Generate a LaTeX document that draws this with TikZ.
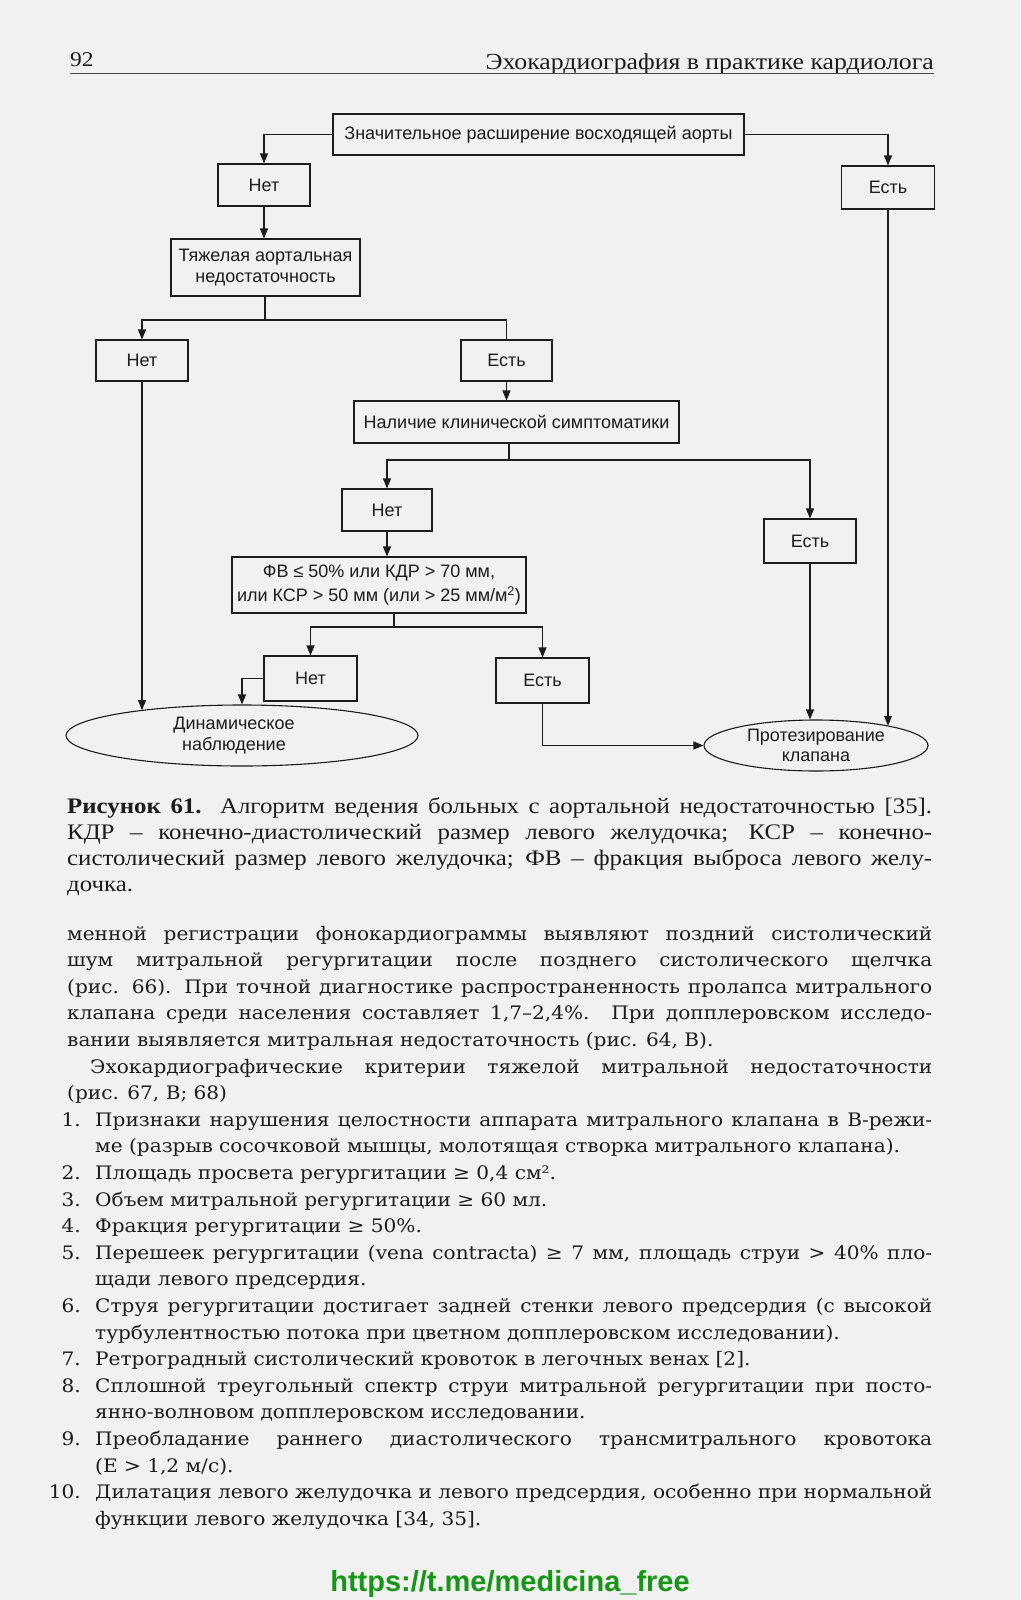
\documentclass[tikz,border=0pt]{standalone}
\usepackage{fontspec}
\setmainfont[FakeStretch=1.12]{Liberation Serif}
\newfontfamily\flowfont{Liberation Sans}
\newfontfamily\bodyfont[FakeStretch=1.08]{DejaVu Serif}
\newfontfamily\urlfont{Liberation Sans}
\usetikzlibrary{arrows.meta,shapes.geometric,calc}
\definecolor{pagebg}{RGB}{241,241,241}
\definecolor{ink}{RGB}{28,28,28}
\definecolor{urlgreen}{RGB}{22,150,22}
\tikzset{
  fbox/.style={draw=ink, line width=1.1pt, fill=pagebg, inner sep=0pt, align=center,
    text=ink, font=\flowfont\fontsize{18}{20.5}\selectfont},
  fell/.style={ellipse, draw=ink, line width=1.1pt, fill=pagebg, inner sep=0pt, align=center,
    text=ink, font=\flowfont\fontsize{18}{20.5}\selectfont},
  conn/.style={draw=ink, line width=1.1pt},
  arr/.style={conn, -{Triangle[length=10pt,width=8pt]}},
  bodytxt/.style={inner sep=0pt, anchor=base west, text=ink, font=\bodyfont\fontsize{18.6}{22}\selectfont},
  captxt/.style={inner sep=0pt, anchor=base west, text=ink, font=\fontsize{22.2}{26}\selectfont},
  numtxt/.style={inner sep=0pt, anchor=base east, text=ink, font=\bodyfont\fontsize{18.6}{22}\selectfont},
}
\newcommand\bodyjust[5]{\node[bodytxt] (#1) at (#2,#3) {\makebox[#4pt][s]{#5}};}
\newcommand\bodyplain[4]{\node[bodytxt] (#1) at (#2,#3) {#4};}
\newcommand\capjust[5]{\node[captxt] (#1) at (#2,#3) {\makebox[#4pt][s]{#5}};}
\begin{document}
\begin{tikzpicture}[x=1pt,y=-1pt]
\useasboundingbox (0,0) rectangle (1020,1600);
\fill[pagebg] (0,0) rectangle (1020,1600);

% header
\node[inner sep=0pt, anchor=base west, text=ink, font=\fontsize{21}{24}\selectfont] (pagenum) at (70,67) {92};
\node[inner sep=0pt, anchor=base east, text=ink, font=\fontsize{23}{26}\selectfont] (runhead) at (934,70) {Эхокардиография в практике кардиолога};
\draw[line width=1.2pt, color=ink!80] (pagenum.base west |- 0,73.5) -- (runhead.base east |- 0,73.5);

% flowchart nodes
\node[fbox, minimum width=411pt, minimum height=41pt] (top) at (538.5,134.5) {Значительное расширение восходящей аорты};
\node[fbox, minimum width=92pt, minimum height=42pt] (no1) at (264,185) {Нет};
\node[fbox, minimum width=93pt, minimum height=43pt] (yes1) at (888,187.5) {Есть};
\node[fbox, minimum width=189pt, minimum height=57pt] (heavy) at (265.5,267.5) {Тяжелая аортальная\\недостаточность};
\node[fbox, minimum width=92pt, minimum height=41pt] (no2) at (142,360.5) {Нет};
\node[fbox, minimum width=91pt, minimum height=41pt] (yes2) at (506.5,360.5) {Есть};
\node[fbox, minimum width=325pt, minimum height=42pt] (clin) at (516.5,422) {Наличие клинической симптоматики};
\node[fbox, minimum width=90pt, minimum height=42pt] (no3) at (387,510) {Нет};
\node[fbox, minimum width=92pt, minimum height=44pt] (yes3) at (810,541) {Есть};
\node[fbox, minimum width=294pt, minimum height=56pt, font=\flowfont\fontsize{18}{24}\selectfont] (fv) at (379,585) {ФВ ≤ 50\% или КДР > 70 мм,\\или КСР > 50 мм (или > 25 мм/м\textsuperscript{2})};
\node[fbox, minimum width=93pt, minimum height=45pt] (no4) at (310.5,678.5) {Нет};
\node[fbox, minimum width=93pt, minimum height=45pt] (yes4) at (542.5,680.5) {Есть};
\node[fell, minimum width=352pt, minimum height=61pt] (obs) at (242,735.5) {\hspace*{-16pt}Динамическое\\\hspace*{-16pt}наблюдение};
\node[fell, minimum width=224pt, minimum height=51pt] (prost) at (816,745.5) {Протезирование\\клапана};

% junctions
\coordinate (j1) at (265,320);
\coordinate (j2) at (509,460);
\coordinate (j3) at (394,627);

% connectors
\draw[arr] (top.west) -| (no1.north);
\draw[arr] (top.east) -| (yes1.north);
\draw[arr] (no1.south) -- (no1.south |- heavy.north);
\draw[conn] (j1 |- heavy.south) -- (j1);
\draw[arr] (j1) -| (no2.north);
\draw[conn] (j1) -| (yes2.north);
\draw[arr] (yes2.south) -- (yes2.south |- clin.north);
\draw[conn] (j2 |- clin.south) -- (j2);
\draw[arr] (j2) -| (no3.north);
\draw[arr] (j2) -| (yes3.north);
\draw[arr] (no3.south) -- (no3.south |- fv.north);
\draw[conn] (j3 |- fv.south) -- (j3);
\draw[arr] (j3) -| (no4.north);
\draw[arr] (j3) -| (yes4.north);
\draw[arr] (no4.west) -| (obs.north);
\draw[arr] (no2.south) -- (no2.south |- obs.166);
\draw[arr] (yes4.south) |- (prost.west);
\draw[arr] (yes3.south) -- (yes3.south |- prost.north);
\draw[arr] (yes1.south) -- (yes1.south |- prost.15);

% caption
\capjust{cap1}{67}{813}{865}{\textbf{Рисунок 61.} Алгоритм ведения больных с аортальной недостаточностью [35].}
\capjust{cap2}{67}{839}{865}{КДР – конечно-диастолический размер левого желудочка; КСР – конечно-}
\capjust{cap3}{67}{865}{865}{систолический размер левого желудочка; ФВ – фракция выброса левого желу-}
\node[captxt] (cap4) at (67,891) {дочка.};

% body text
\bodyjust{b1}{67}{940}{865}{менной регистрации фонокардиограммы выявляют поздний систолический}
\bodyjust{b2}{67}{966.6}{865}{шум митральной регургитации после позднего систолического щелчка}
\bodyjust{b3}{67}{993.2}{865}{(рис. 66). При точной диагностике распространенность пролапса митрального}
\bodyjust{b4}{67}{1019.8}{865}{клапана среди населения составляет 1,7–2,4\%. При допплеровском исследо-}
\bodyplain{b5}{67}{1046.4}{вании выявляется митральная недостаточность (рис. 64, В).}
\bodyjust{b6}{90}{1073}{842}{Эхокардиографические критерии тяжелой митральной недостаточности}
\bodyplain{b7}{67}{1099.6}{(рис. 67, В; 68)}

\node[numtxt] (n1) at (81,1126.2) {1.};
\bodyjust{b8}{95}{1126.2}{837}{Признаки нарушения целостности аппарата митрального клапана в В-режи-}
\bodyplain{b9}{95}{1152.8}{ме (разрыв сосочковой мышцы, молотящая створка митрального клапана).}
\node[numtxt] (n2) at (81,1179.4) {2.};
\bodyplain{b10}{95}{1179.4}{Площадь просвета регургитации ≥ 0,4 см².}
\node[numtxt] (n3) at (81,1206) {3.};
\bodyplain{b11}{95}{1206}{Объем митральной регургитации ≥ 60 мл.}
\node[numtxt] (n4) at (81,1232.6) {4.};
\bodyplain{b12}{95}{1232.6}{Фракция регургитации ≥ 50\%.}
\node[numtxt] (n5) at (81,1259.2) {5.};
\bodyjust{b13}{95}{1259.2}{837}{Перешеек регургитации (vena contracta) ≥ 7 мм, площадь струи > 40\% пло-}
\bodyplain{b14}{95}{1285.8}{щади левого предсердия.}
\node[numtxt] (n6) at (81,1312.4) {6.};
\bodyjust{b15}{95}{1312.4}{837}{Струя регургитации достигает задней стенки левого предсердия (с высокой}
\bodyplain{b16}{95}{1339}{турбулентностью потока при цветном допплеровском исследовании).}
\node[numtxt] (n7) at (81,1365.6) {7.};
\bodyplain{b17}{95}{1365.6}{Ретроградный систолический кровоток в легочных венах [2].}
\node[numtxt] (n8) at (81,1392.2) {8.};
\bodyjust{b18}{95}{1392.2}{837}{Сплошной треугольный спектр струи митральной регургитации при посто-}
\bodyplain{b19}{95}{1418.8}{янно-волновом допплеровском исследовании.}
\node[numtxt] (n9) at (81,1445.4) {9.};
\bodyjust{b20}{95}{1445.4}{837}{Преобладание раннего диастолического трансмитрального кровотока}
\bodyplain{b21}{95}{1472}{(E > 1,2 м/с).}
\node[numtxt] (n10) at (81,1498.6) {10.};
\bodyjust{b22}{95}{1498.6}{837}{Дилатация левого желудочка и левого предсердия, особенно при нормальной}
\bodyplain{b23}{95}{1525.2}{функции левого желудочка [34, 35].}

% url
\node[inner sep=0pt, anchor=base, text=urlgreen, font=\urlfont\bfseries\fontsize{29}{34}\selectfont] (url) at (510,1591) {https://t.me/medicina\_free};
\end{tikzpicture}
\end{document}
